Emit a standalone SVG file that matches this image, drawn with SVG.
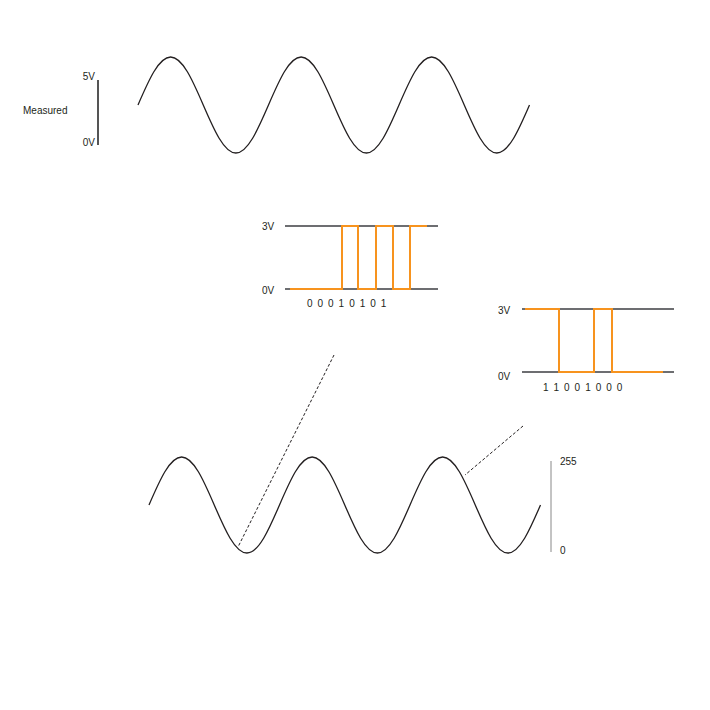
<svg xmlns="http://www.w3.org/2000/svg" width="710" height="710" viewBox="0 0 710 710">
<defs>
<style>
.lbl{font-family:"Liberation Sans",Arial,sans-serif;font-size:10px;fill:#231f20}
.sine{fill:none;stroke:#231f20;stroke-width:1.3}
.rail{stroke:#6d6e71;stroke-width:2;fill:none}
.sig{stroke:#f7931e;stroke-width:2;fill:none;stroke-linejoin:miter}
.dash{stroke:#231f20;stroke-width:1;stroke-dasharray:3 2;fill:none}
</style>
<path id="wave" d="M0,0 c10.63,-24.59 20.81,-48 32.625,-48 c11.81,0 22,23.41 32.625,48 c10.63,24.59 20.81,48 32.625,48 c11.81,0 22,-23.41 32.625,-48 c10.63,-24.59 20.81,-48 32.625,-48 c11.81,0 22,23.41 32.625,48 c10.63,24.59 20.81,48 32.625,48 c11.81,0 22,-23.41 32.625,-48 c10.63,-24.59 20.81,-48 32.625,-48 c11.81,0 22,23.41 32.625,48 c10.63,24.59 20.81,48 32.625,48 c11.81,0 22,-23.41 32.625,-48"/>
</defs>
<rect width="710" height="710" fill="#ffffff"/>
<g id="measured">
<use href="#wave" class="sine" transform="translate(138,105)"/>
<line x1="98" y1="80" x2="98" y2="145" stroke="#555555" stroke-width="2"/>
<text class="lbl" x="95" y="79.5" text-anchor="end">5V</text>
<text class="lbl" x="95" y="145.5" text-anchor="end">0V</text>
<text class="lbl" x="23" y="114" font-size="11">Measured</text>
</g>
<g id="digital-1">
<line class="rail" x1="285" y1="226" x2="438" y2="226"/>
<line class="rail" x1="285" y1="289" x2="438" y2="289"/>
<polyline class="sig" points="290,289 342,289 342,226 358,226 358,289 376,289 376,226 393,226 393,289 410,289 410,226 427,226"/>
<text class="lbl" x="262" y="230">3V</text>
<text class="lbl" x="262" y="294">0V</text>
<text class="lbl" x="307" y="307" letter-spacing="1.1">0 0 0 1 0 1 0 1</text>
</g>
<g id="digital-2">
<line class="rail" x1="522" y1="309" x2="674" y2="309"/>
<line class="rail" x1="522" y1="372" x2="674" y2="372"/>
<polyline class="sig" points="525,309 559,309 559,372 594,372 594,309 612,309 612,372 663,372"/>
<text class="lbl" x="498" y="314">3V</text>
<text class="lbl" x="498" y="380">0V</text>
<text class="lbl" x="543" y="390.5" letter-spacing="1.1">1 1 0 0 1 0 0 0</text>
</g>
<g id="sampled">
<use href="#wave" class="sine" transform="translate(149,505)"/>
<line x1="551" y1="461" x2="551" y2="552" stroke="#888888" stroke-width="1"/>
<text class="lbl" x="560" y="464.5">255</text>
<text class="lbl" x="560" y="554">0</text>
</g>
<g id="connectors">
<line class="dash" x1="334" y1="355" x2="238" y2="547"/>
<line class="dash" x1="523" y1="426" x2="465" y2="475"/>
</g>
</svg>
